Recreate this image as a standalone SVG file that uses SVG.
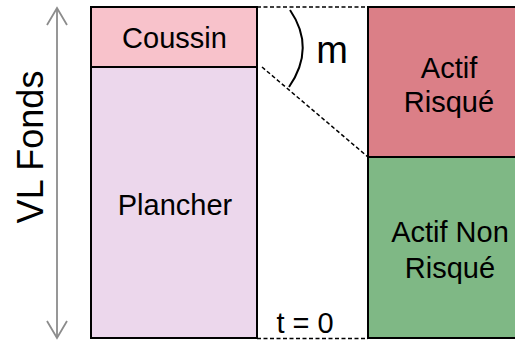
<svg xmlns="http://www.w3.org/2000/svg" width="515" height="340" viewBox="0 0 515 340">
<defs>
<style>
.box{stroke:#000;stroke-width:2}
.lbl{font-family:"Liberation Sans",Arial,sans-serif;font-size:29px;fill:#000;text-anchor:middle}
.dash{stroke:#000;stroke-width:1.5;stroke-dasharray:4 2.5;fill:none}
.gray{fill:none;stroke:#8c8c8c;stroke-width:1.8}
</style>
</defs>
<rect width="515" height="340" fill="#fff"/>
<g id="axis">
<line class="gray" x1="57" y1="8" x2="57" y2="338"/>
<path class="gray" d="M47,25 L57,8 L67,25"/>
<path class="gray" d="M47,321 L57,338 L67,321"/>
<text transform="translate(43,147) rotate(-90)" font-family="'Liberation Sans',Arial,sans-serif" font-size="36" text-anchor="middle">VL Fonds</text>
</g>
<g id="plancher">
<rect class="box" x="91" y="67" width="166" height="271" fill="#ecd7ec"/>
<text class="lbl" x="175" y="215">Plancher</text>
</g>
<g id="coussin">
<rect class="box" x="91" y="7" width="166" height="60" fill="#f8c2cb"/>
<text class="lbl" x="174.5" y="48">Coussin</text>
</g>
<g id="actif-risque">
<rect class="box" x="368" y="7" width="160" height="150" fill="#db7f87"/>
<text class="lbl" x="449" y="78">Actif</text>
<text class="lbl" x="449" y="112">Risqué</text>
</g>
<g id="actif-non-risque">
<rect class="box" x="368" y="157" width="160" height="181" fill="#7fb885"/>
<text class="lbl" x="450" y="242">Actif Non</text>
<text class="lbl" x="450" y="278">Risqué</text>
</g>
<g id="connectors">
<line class="dash" x1="257" y1="7" x2="368" y2="7"/>
<line class="dash" x1="257" y1="338.5" x2="368" y2="338.5"/>
<line class="dash" x1="262" y1="67" x2="368" y2="157"/>
<path d="M290,10 Q316,48 289,87" fill="none" stroke="#000" stroke-width="2"/>
</g>
<g id="labels">
<text x="332" y="63" font-family="'Liberation Sans',Arial,sans-serif" font-size="38" text-anchor="middle">m</text>
<text class="lbl" x="305" y="333">t = 0</text>
</g>
</svg>
